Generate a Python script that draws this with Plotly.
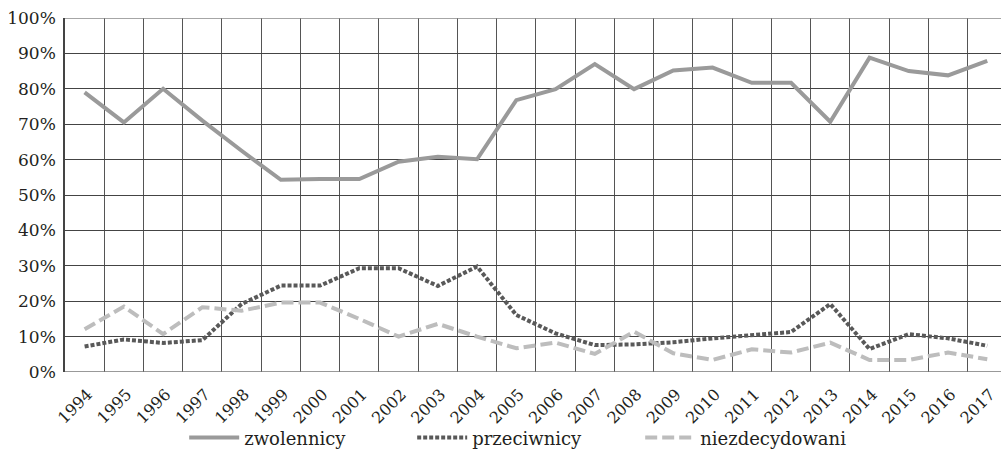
import plotly.graph_objects as go

years = list(range(1994, 2018))
zwolennicy = [79, 70.5, 80, 71, 62.5, 54.3, 54.5, 54.5, 59.4, 60.8, 60.1, 76.8, 79.9, 87.0,
              79.9, 85.2, 86.0, 81.7, 81.7, 70.7, 88.8, 85.0, 83.8, 87.9]
przeciwnicy = [7.2, 9.2, 8.2, 9.0, 19.2, 24.4, 24.4, 29.3, 29.3, 24.3, 29.8, 16.1, 10.9, 7.6,
               7.8, 8.4, 9.5, 10.5, 11.3, 19.2, 6.5, 10.7, 9.5, 7.4]
niezdecydowani = [12.1, 18.5, 10.7, 18.3, 17.3, 19.6, 19.6, 15.0, 10.0, 13.6, 10.0, 6.7, 8.3, 5.1,
                  11.4, 5.3, 3.4, 6.4, 5.5, 8.3, 3.4, 3.4, 5.5, 3.6]
y_ticks = list(range(0, 101, 10))
y_labels = [f"{v}%" for v in y_ticks]

FONT = "DejaVu Serif"
TXT = "#231f20"

fig = go.Figure()
fig.add_trace(go.Scatter(x=years, y=zwolennicy, mode="lines", name="zwolennicy",
                         line=dict(color="#9a9a9a", width=4)))
fig.add_trace(go.Scatter(x=years, y=przeciwnicy, mode="lines", name="przeciwnicy",
                         line=dict(color="#595959", width=4, dash="4px,2px")))
fig.add_trace(go.Scatter(x=years, y=niezdecydowani, mode="lines", name="niezdecydowani",
                         line=dict(color="#bdbdbd", width=4, dash="12px,5px")))

fig.update_layout(
    width=1001, height=449,
    margin=dict(l=65, r=0, t=18, b=77, autoexpand=False),
    paper_bgcolor="white", plot_bgcolor="white",
    font=dict(family=FONT, size=17, color=TXT),
    showlegend=True,
    legend=dict(orientation="h", xref="container", yref="container",
                x=0.184, xanchor="left", y=0.025, yanchor="middle",
                font=dict(family=FONT, size=18, color=TXT),
                itemwidth=50,
                entrywidth=163, entrywidthmode="pixels",
                bgcolor="rgba(0,0,0,0)"),
    xaxis=dict(range=[1993.5, 2017.35], tickmode="array", tickvals=years,
               ticktext=[str(y) for y in years], tickangle=-45,
               showgrid=False, ticks="", zeroline=False, automargin=False,
               showline=False, ticklabelshift=3, ticklabelstandoff=9,
               ticklabeloverflow="allow",
               tickfont=dict(family=FONT, size=16, color=TXT),
               minor=dict(tickmode="linear", tick0=0.5, dtick=1, showgrid=True,
                          gridcolor="#555555", gridwidth=1, ticks="")),
    yaxis=dict(range=[0, 100], tickmode="array", tickvals=y_ticks, ticktext=y_labels,
               showgrid=True, gridcolor="#444444", gridwidth=1, zeroline=False,
               showline=True, linecolor="#444444", linewidth=1.5, ticks="",
               automargin=False, ticklabelstandoff=4,
               ticklen=0, tickfont=dict(family=FONT, size=17, color=TXT)),
)
fig.add_shape(type="line", xref="paper", yref="y", x0=0, x1=1, y0=0, y1=0,
              line=dict(color="#777777", width=1.5))
fig.add_shape(type="line", xref="paper", yref="y", x0=0, x1=1, y0=100, y1=100,
              line=dict(color="#888888", width=1.5))

fig.write_html("out.html", config={"displayModeBar": False},
               post_script="document.body.style.margin='0';")
